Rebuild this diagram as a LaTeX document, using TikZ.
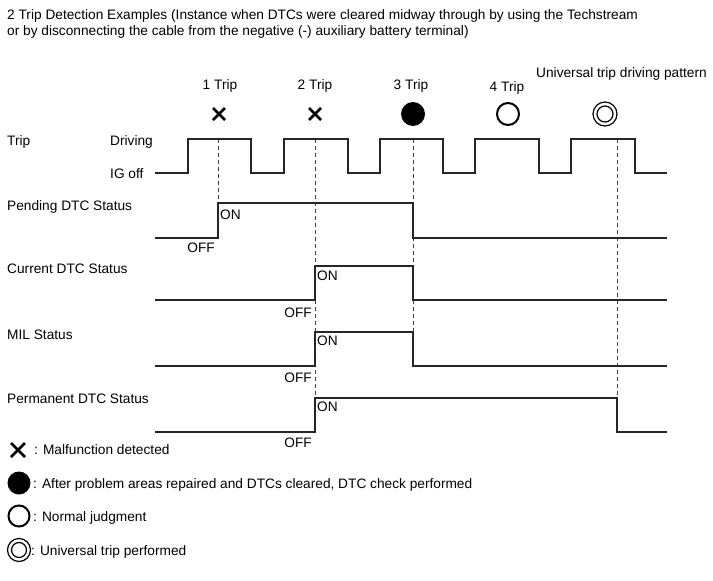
\documentclass[tikz,border=0pt]{standalone}
\usepackage{fontspec}
\setmainfont{Liberation Sans}
\begin{document}
\begin{tikzpicture}[x=1pt,y=-1pt,
  txt/.style={inner sep=0pt, anchor=base west, font=\fontsize{13.7}{16.5}\selectfont},
  ctxt/.style={txt, anchor=base},
  rtxt/.style={txt, anchor=base east},
  wave/.style={line width=1.4pt, draw=black!85, line join=miter},
  guide/.style={line width=0.8pt, draw=black!75, dash pattern=on 4pt off 3pt},
  xmark/.style={line width=2.6pt, draw=black},
  ring/.style={line width=2pt, draw=black},
  thinring/.style={line width=1.2pt, draw=black},
]
\useasboundingbox (0,0) rectangle (713,581);

% title
\node[txt] (t1) at (7,19) {2 Trip Detection Examples (Instance when DTCs were cleared midway through by using the Techstream};
\node[txt] (t2) at (7,35) {or by disconnecting the cable from the negative (-) auxiliary battery terminal)};

% trip labels
\node[ctxt] (l1) at (220,89) {1 Trip};
\node[ctxt] (l2) at (315,89) {2 Trip};
\node[ctxt] (l3) at (411,89) {3 Trip};
\node[ctxt] (l4) at (507,91) {4 Trip};
\node[txt]  (lu) at (536,77) {Universal trip driving pattern};

% symbols above trips
\draw[xmark] (213,108) -- (225,120) (213,120) -- (225,108);
\draw[xmark] (309,108) -- (321,120) (309,120) -- (321,108);
\fill (413,114) circle (12);
\draw[ring] (508,114) circle (11);
\draw[thinring] (605,114) circle (12) (605,114) circle (8);

% row labels
\node[txt] (rtrip) at (7,145) {Trip};
\node[txt] (rdrv) at (110,145) {Driving};
\node[txt] (rig) at (110,178) {IG off};
\node[txt] (rpend) at (7,210) {Pending DTC Status};
\node[txt] (rcur) at (7,273) {Current DTC Status};
\node[txt] (rmil) at (7,339) {MIL Status};
\node[txt] (rperm) at (7,403) {Permanent DTC Status};

% guide lines
\coordinate (g1t) at (218,139); \coordinate (g1b) at (218,203);
\coordinate (g2t) at (315,139); \coordinate (g2b) at (315,432);
\coordinate (g3t) at (413,139); \coordinate (g3b) at (413,332);
\coordinate (g4t) at (617,139); \coordinate (g4b) at (617,398);
\draw[guide] (g1t) -- (g1b);
\draw[guide] (g2t) -- (g2b);
\draw[guide] (g3t) -- (g3b);
\draw[guide] (g4t) -- (g4b);

% trip waveform
\draw[wave] (155,173) -- (188,173) -- (188,139) -- (251,139) -- (251,173)
  -- (284,173) -- (284,139) -- (348,139) -- (348,173)
  -- (380,173) -- (380,139) -- (443,139) -- (443,173)
  -- (475,173) -- (475,139) -- (539,139) -- (539,173)
  -- (571,173) -- (571,139) -- (635,139) -- (635,173) -- (667,173);

% status waveforms
\draw[wave] (155,238) -- (218,238) -- (218,203) -- (413,203) -- (413,238) -- (667,238);
\draw[wave] (155,300) -- (315,300) -- (315,266) -- (413,266) -- (413,300) -- (667,300);
\draw[wave] (155,366) -- (315,366) -- (315,332) -- (413,332) -- (413,366) -- (667,366);
\draw[wave] (155,432) -- (315,432) -- (315,398) -- (617,398) -- (617,432) -- (667,432);

% ON / OFF labels
\node[txt]  (on1) at (220,219) {ON};
\node[rtxt] (off1) at (215,252) {OFF};
\node[txt]  (on2) at (317,280) {ON};
\node[rtxt] (off2) at (312,317) {OFF};
\node[txt]  (on3) at (317,345) {ON};
\node[rtxt] (off3) at (312,382) {OFF};
\node[txt]  (on4) at (317,411) {ON};
\node[rtxt] (off4) at (312,447) {OFF};

% legend
\draw[xmark] (11,443) -- (25,457) (11,457) -- (25,443);
\node[txt] (k1) at (34,454) {: Malfunction detected};
\fill (19,483) circle (11.5);
\node[txt] (k2) at (33,488) {: After problem areas repaired and DTCs cleared, DTC check performed};
\draw[ring] (19,516) circle (10.5);
\node[txt] (k3) at (33,521) {: Normal judgment};
\draw[thinring] (19,550) circle (11.5) (19,550) circle (7.5);
\node[txt] (k4) at (31,555) {: Universal trip performed};
\end{tikzpicture}
\end{document}
